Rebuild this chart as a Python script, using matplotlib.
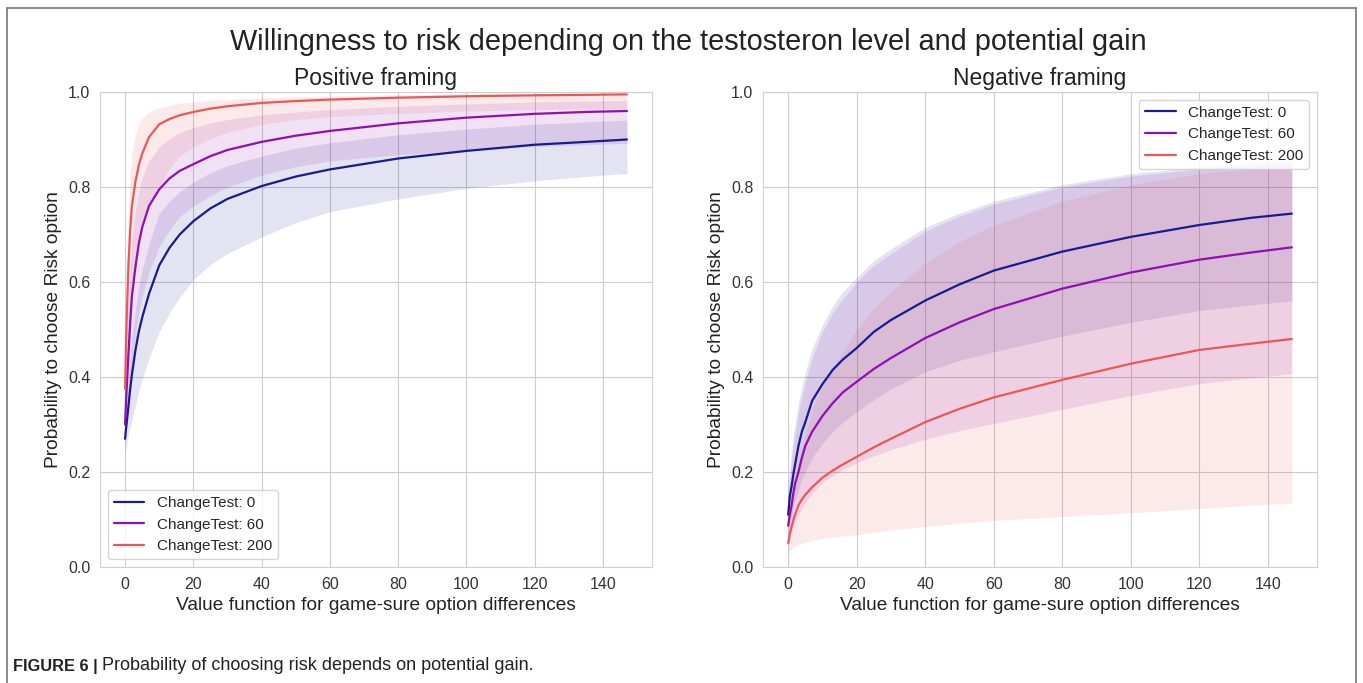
import matplotlib
matplotlib.use("Agg")
import matplotlib.pyplot as plt
import seaborn as sns
from matplotlib.lines import Line2D

sns.set_style("whitegrid")
plt.rcParams["font.family"] = ["Liberation Sans", "DejaVu Sans"]

# Value-function differences at which the fitted model was evaluated
x_vals = [0, 0.25, 0.5, 1, 1.5, 2, 3, 4, 5, 7, 10, 13, 16, 20, 25, 30, 40, 50, 60, 80, 100, 120, 135, 147]

series_labels = ["ChangeTest: 0", "ChangeTest: 60", "ChangeTest: 200"]

# Positive framing: predicted probability and confidence bounds
pos_mean_0 = [0.27, 0.29, 0.305, 0.34, 0.375, 0.405, 0.455, 0.495, 0.525, 0.575, 0.635, 0.672, 0.70, 0.728, 0.755, 0.775, 0.802, 0.822, 0.837, 0.860, 0.876, 0.889, 0.895, 0.900]
pos_lo_0 = [0.24, 0.25, 0.26, 0.28, 0.295, 0.31, 0.34, 0.37, 0.395, 0.44, 0.495, 0.535, 0.568, 0.605, 0.637, 0.66, 0.695, 0.725, 0.748, 0.775, 0.797, 0.813, 0.822, 0.829]
pos_hi_0 = [0.30, 0.325, 0.35, 0.40, 0.445, 0.48, 0.54, 0.59, 0.625, 0.68, 0.745, 0.77, 0.79, 0.81, 0.83, 0.845, 0.865, 0.882, 0.893, 0.910, 0.922, 0.932, 0.937, 0.941]

pos_mean_60 = [0.30, 0.345, 0.38, 0.45, 0.515, 0.57, 0.63, 0.68, 0.715, 0.76, 0.795, 0.818, 0.834, 0.848, 0.865, 0.878, 0.895, 0.908, 0.918, 0.934, 0.946, 0.954, 0.958, 0.960]
pos_lo_60 = [0.27, 0.29, 0.31, 0.35, 0.395, 0.43, 0.49, 0.535, 0.57, 0.62, 0.675, 0.71, 0.738, 0.76, 0.782, 0.80, 0.825, 0.843, 0.855, 0.868, 0.877, 0.885, 0.889, 0.892]
pos_hi_60 = [0.34, 0.40, 0.46, 0.56, 0.635, 0.69, 0.75, 0.79, 0.82, 0.855, 0.885, 0.902, 0.915, 0.925, 0.935, 0.942, 0.952, 0.958, 0.963, 0.970, 0.975, 0.979, 0.981, 0.982]

pos_mean_200 = [0.375, 0.46, 0.53, 0.64, 0.71, 0.76, 0.81, 0.845, 0.87, 0.905, 0.932, 0.943, 0.951, 0.958, 0.965, 0.970, 0.977, 0.981, 0.984, 0.988, 0.991, 0.993, 0.994, 0.995]
pos_lo_200 = [0.35, 0.385, 0.42, 0.48, 0.535, 0.58, 0.64, 0.68, 0.71, 0.76, 0.80, 0.84, 0.865, 0.885, 0.902, 0.915, 0.932, 0.942, 0.948, 0.955, 0.960, 0.963, 0.964, 0.965]
pos_hi_200 = [0.40, 0.52, 0.63, 0.76, 0.83, 0.87, 0.91, 0.932, 0.945, 0.958, 0.967, 0.972, 0.976, 0.979, 0.982, 0.985, 0.988, 0.990, 0.992, 0.994, 0.996, 0.997, 0.997, 0.998]

# Negative framing: predicted probability and confidence bounds
neg_mean_0 = [0.11, 0.13, 0.15, 0.17, 0.195, 0.215, 0.255, 0.285, 0.305, 0.35, 0.385, 0.415, 0.437, 0.461, 0.495, 0.52, 0.561, 0.595, 0.624, 0.664, 0.695, 0.720, 0.735, 0.744]
neg_lo_0 = [0.07, 0.08, 0.09, 0.11, 0.125, 0.14, 0.165, 0.185, 0.20, 0.23, 0.26, 0.285, 0.305, 0.327, 0.352, 0.375, 0.411, 0.435, 0.453, 0.486, 0.515, 0.540, 0.552, 0.560]
neg_hi_0 = [0.17, 0.19, 0.21, 0.245, 0.275, 0.30, 0.345, 0.38, 0.41, 0.46, 0.51, 0.55, 0.58, 0.61, 0.645, 0.67, 0.715, 0.745, 0.77, 0.805, 0.828, 0.842, 0.85, 0.855]

neg_mean_60 = [0.087, 0.10, 0.11, 0.13, 0.155, 0.175, 0.20, 0.23, 0.255, 0.285, 0.318, 0.345, 0.368, 0.39, 0.417, 0.44, 0.482, 0.515, 0.543, 0.586, 0.620, 0.647, 0.662, 0.673]
neg_lo_60 = [0.05, 0.055, 0.06, 0.075, 0.085, 0.095, 0.11, 0.123, 0.135, 0.155, 0.178, 0.192, 0.205, 0.219, 0.234, 0.247, 0.269, 0.287, 0.302, 0.332, 0.361, 0.386, 0.398, 0.407]
neg_hi_60 = [0.15, 0.17, 0.19, 0.225, 0.255, 0.28, 0.325, 0.36, 0.39, 0.44, 0.495, 0.535, 0.565, 0.60, 0.635, 0.66, 0.707, 0.738, 0.764, 0.80, 0.823, 0.838, 0.845, 0.85]

neg_mean_200 = [0.05, 0.06, 0.07, 0.085, 0.098, 0.11, 0.13, 0.142, 0.152, 0.168, 0.188, 0.203, 0.216, 0.232, 0.252, 0.27, 0.305, 0.333, 0.357, 0.394, 0.428, 0.457, 0.47, 0.48]
neg_lo_200 = [0.028, 0.03, 0.033, 0.037, 0.04, 0.043, 0.047, 0.05, 0.052, 0.056, 0.06, 0.063, 0.065, 0.068, 0.073, 0.078, 0.085, 0.092, 0.098, 0.106, 0.114, 0.123, 0.13, 0.135]
neg_hi_200 = [0.09, 0.105, 0.12, 0.15, 0.17, 0.19, 0.225, 0.255, 0.28, 0.33, 0.38, 0.42, 0.455, 0.50, 0.545, 0.58, 0.64, 0.685, 0.72, 0.77, 0.805, 0.828, 0.838, 0.845]

colors = ["#1c1a8c", "#8e10b0", "#e8585a"]

panels = [
    ("Positive framing",
     [(pos_mean_0, pos_lo_0, pos_hi_0), (pos_mean_60, pos_lo_60, pos_hi_60), (pos_mean_200, pos_lo_200, pos_hi_200)],
     "lower left"),
    ("Negative framing",
     [(neg_mean_0, neg_lo_0, neg_hi_0), (neg_mean_60, neg_lo_60, neg_hi_60), (neg_mean_200, neg_lo_200, neg_hi_200)],
     "upper right"),
]

fig = plt.figure(figsize=(13.63, 6.83), dpi=100)
axes_rects = [
    [100 / 1363, 116 / 683, 552 / 1363, 475 / 683],
    [763 / 1363, 116 / 683, 554 / 1363, 475 / 683],
]

for rect, (title, curves, loc) in zip(axes_rects, panels):
    ax = fig.add_axes(rect)
    for (mean, lo, hi), col, lab in zip(curves, colors, series_labels):
        ax.fill_between(x_vals, lo, hi, color=col, alpha=0.12, linewidth=0)
        ax.plot(x_vals, mean, color=col, lw=1.6, label=lab, solid_joinstyle="round")
    ax.set_ylim(0, 1.0)
    ax.set_xlim(-7.35, 154.35)
    ax.set_xticks([0, 20, 40, 60, 80, 100, 120, 140])
    ax.set_yticks([0.0, 0.2, 0.4, 0.6, 0.8, 1.0])
    ax.tick_params(labelsize=11.5, colors="#333333")
    ax.set_title(title, fontsize=16.5, color="#222222", pad=5)
    ax.set_xlabel("Value function for game-sure option differences", fontsize=13.8, color="#222222")
    ax.set_ylabel("Probability to choose Risk option", fontsize=13.8, color="#222222")
    leg = ax.legend(loc=loc, fontsize=11, frameon=True, handlelength=2.0)
    leg.get_frame().set_edgecolor("#cccccc")
    for sp in ax.spines.values():
        sp.set_color("#d0d0d0")

fig.suptitle("Willingness to risk depending on the testosteron level and potential gain",
             fontsize=20.8, color="#222222", x=688 / 1363, y=1 - 42 / 683, va="center")

# Outer frame around the figure panel (open at the bottom)
frame_col = "#777777"
fig.add_artist(Line2D([7 / 1363, 7 / 1363], [0, 1 - 8 / 683], transform=fig.transFigure, color=frame_col, lw=1.2))
fig.add_artist(Line2D([7 / 1363, 1356 / 1363], [1 - 8 / 683, 1 - 8 / 683], transform=fig.transFigure, color=frame_col, lw=1.2))
fig.add_artist(Line2D([1356 / 1363, 1356 / 1363], [0, 1 - 8 / 683], transform=fig.transFigure, color=frame_col, lw=1.2))

fig.text(13 / 1363, 1 - 666 / 683, "FIGURE 6 |", fontsize=11.8, fontweight="bold",
         color="#222222", va="center")
fig.text(102 / 1363, 1 - 666 / 683, "Probability of choosing risk depends on potential gain.", fontsize=13,
         color="#222222", va="center")

fig.savefig("out.png", dpi=100)
